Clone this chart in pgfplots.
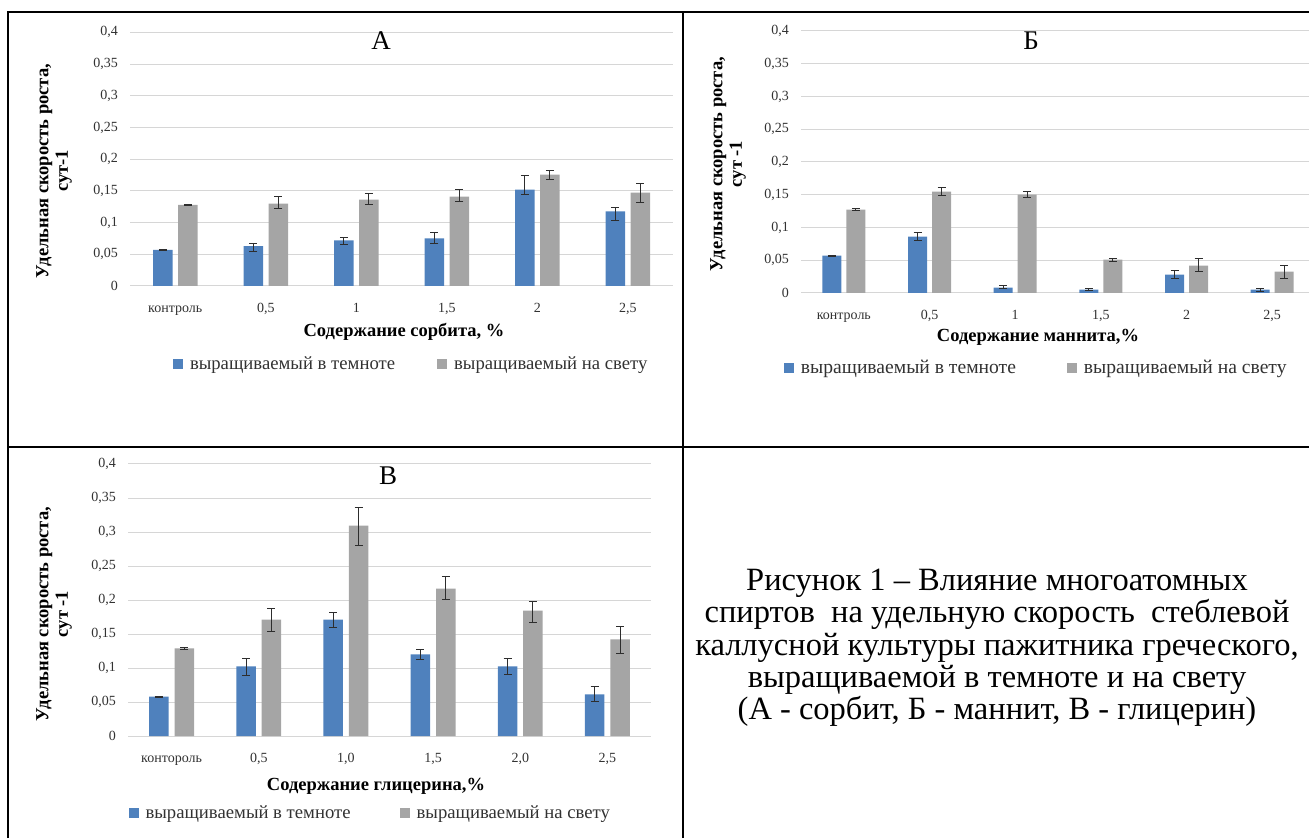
\documentclass[border=0pt]{standalone}
\usepackage{pgfplots}
\pgfplotsset{compat=1.18}
\usepackage{pgfplotstable}
\usepackage{fontspec}
\setmainfont{Liberation Serif}
\definecolor{bluebar}{RGB}{79,129,189}
\definecolor{graybar}{RGB}{165,165,165}
\definecolor{gridc}{RGB}{214,214,214}
\definecolor{errc}{RGB}{45,45,45}
\definecolor{txt}{RGB}{50,50,50}

\pgfplotstableread{
x y1 p1 m1 y2 p2 m2
0 0.057 0.001 0.001 0.128 0.001 0.001
1 0.063 0.004 0.008 0.130 0.0115 0.0083
2 0.072 0.0042 0.0062 0.1363 0.0089 0.0078
3 0.0752 0.0089 0.0084 0.141 0.0115 0.0084
4 0.152 0.023 0.0074 0.1755 0.0068 0.0074
5 0.1175 0.0057 0.0146 0.1473 0.0146 0.0152
}\dataA

\pgfplotstableread{
x y1 p1 m1 y2 p2 m2
0 0.057 0.001 0.001 0.1272 0.0015 0.0015
1 0.086 0.0061 0.0051 0.1547 0.0066 0.0056
2 0.0081 0.0026 0.002 0.150 0.0052 0.004
3 0.0051 0.001 0.001 0.0509 0.0025 0.0025
4 0.028 0.0071 0.0056 0.0417 0.0117 0.0086
5 0.0051 0.002 0.0026 0.0326 0.0096 0.0102
}\dataB

\pgfplotstableread{
x y1 p1 m1 y2 p2 m2
0 0.0578 0.001 0.001 0.1287 0.001 0.001
1 0.1023 0.0122 0.0137 0.1713 0.0157 0.0176
2 0.1713 0.0108 0.0122 0.3094 0.0269 0.0289
3 0.1199 0.0069 0.0078 0.2169 0.0171 0.0162
4 0.1023 0.0122 0.0122 0.1845 0.0133 0.0171
5 0.0612 0.0117 0.0108 0.142 0.0195 0.0206
}\dataC

\pgfplotsset{
  panel/.style={
    ybar,
    scale only axis,
    anchor=south west,
    ymin=0, ymax=0.4,
    xmin=-0.5, xmax=5.5,
    ytick={0,0.05,0.1,0.15,0.2,0.25,0.3,0.35,0.4},
    yticklabels={0,{0,05},{0,1},{0,15},{0,2},{0,25},{0,3},{0,35},{0,4}},
    xtick={0,1,2,3,4,5},
    ymajorgrids,
    grid style={draw=gridc, line width=1pt},
    axis line style={draw=none},
    major tick length=0pt,
    tick label style={font=\fontsize{14}{16}\selectfont, text=txt},
    yticklabel style={anchor=east, inner sep=0pt, xshift=-12pt},
    xticklabel style={anchor=base, inner sep=0pt, yshift=-26.5pt},
    legend columns=2,
    legend style={draw=none, fill=none, inner sep=0pt, outer sep=0pt, anchor=west,
       font=\fontsize{18.7}{20}\selectfont, text=txt,
       nodes={inner sep=0pt},
       /tikz/every odd column/.append style={column sep=7pt}},
    legend image code/.code={\fill[##1] (0pt,-5pt) rectangle (10pt,5pt);},
    error bars/y dir=both, error bars/y explicit,
    error bars/error bar style={draw=errc, line width=1pt},
    error bars/error mark options={rotate=90, mark size=4pt, line width=1pt, draw=errc},
    clip=false,
  },
}

\begin{document}
\begin{tikzpicture}
\useasboundingbox (0pt,0pt) rectangle (1309pt,838pt);

% ---------------- A ----------------
\begin{axis}[panel, at={(130pt,552pt)}, width=543pt, height=253.7pt, bar width=19.5pt,
  xticklabels={контроль,{0,5},1,{1,5},2,{2,5}},
  legend style={at={(0.0792,-0.3074)}, /tikz/every even column/.append style={column sep=42pt}}]
\addplot[fill=bluebar, draw=none, bar shift=-12.5pt] table[x=x, y=y1, y error plus=p1, y error minus=m1] {\dataA};
\addplot[fill=graybar, draw=none, bar shift=12.5pt] table[x=x, y=y2, y error plus=p2, y error minus=m2] {\dataA};
\legend{выращиваемый в темноте, выращиваемый на свету}
\end{axis}

% ---------------- Б ----------------
\begin{axis}[panel, at={(801pt,545pt)}, width=508pt, height=262pt, xmax=5.43, bar width=19pt,
  xticklabels={контроль,{0,5},1,{1,5},2,{2,5}},
  legend style={at={(-0.0335,-0.286)}, font=\fontsize{19.6}{21}\selectfont,
    /tikz/every even column/.append style={column sep=51pt}}]
\addplot[fill=bluebar, draw=none, bar shift=-12pt] table[x=x, y=y1, y error plus=p1, y error minus=m1] {\dataB};
\addplot[fill=graybar, draw=none, bar shift=12pt] table[x=x, y=y2, y error plus=p2, y error minus=m2] {\dataB};
\legend{выращиваемый в темноте, выращиваемый на свету}
\end{axis}

% ---------------- В ----------------
\begin{axis}[panel, at={(128pt,102pt)}, width=523pt, height=272pt, bar width=19.5pt,
  xticklabels={контороль,{0,5},{1,0},{1,5},{2,0},{2,5}},
  legend style={at={(0.001,-0.283)}, /tikz/every even column/.append style={column sep=49pt}}]
\addplot[fill=bluebar, draw=none, bar shift=-12.7pt] table[x=x, y=y1, y error plus=p1, y error minus=m1] {\dataC};
\addplot[fill=graybar, draw=none, bar shift=12.7pt] table[x=x, y=y2, y error plus=p2, y error minus=m2] {\dataC};
\legend{выращиваемый в темноте, выращиваемый на свету}
\end{axis}

% frame
\draw[line width=2.5pt] (8pt,0pt) -- (8pt,826pt) -- (1309pt,826pt);
\draw[line width=2.5pt] (683pt,0pt) -- (683pt,826pt);
\draw[line width=2.5pt] (8pt,391pt) -- (1309pt,391pt);

% titles
\node[font=\fontsize{27}{30}\selectfont] at (381pt,797pt) {А};
\node[font=\fontsize{27}{30}\selectfont] at (1031pt,797pt) {Б};
\node[font=\fontsize{27}{30}\selectfont] at (388pt,362.5pt) {В};

% x labels
\node[font=\fontsize{18.5}{20}\selectfont\bfseries] at (404pt,506pt) {Содержание сорбита, \%};
\node[font=\fontsize{18.5}{20}\selectfont\bfseries] at (1038pt,501pt) {Содержание маннита,\%};
\node[font=\fontsize{18.5}{20}\selectfont\bfseries] at (376pt,52pt) {Содержание глицерина,\%};

% y labels
\node[rotate=90, align=center, inner sep=0pt, font=\fontsize{18.5}{19.5}\selectfont\bfseries] at (54pt,667pt) {Удельная скорость роста,\\ сут-1};
\node[rotate=90, align=center, inner sep=0pt, font=\fontsize{18.5}{19.5}\selectfont\bfseries] at (728pt,674pt) {Удельная скорость роста,\\ сут -1};
\node[rotate=90, align=center, inner sep=0pt, font=\fontsize{18.5}{19.5}\selectfont\bfseries] at (54pt,224pt) {Удельная скорость роста,\\ сут -1};

% caption
\node[align=center, inner sep=0pt, font=\fontsize{32.5}{32.3}\selectfont] at (997pt,190pt) {%
Рисунок 1 – Влияние многоатомных\\
спиртов\ \ на удельную скорость\ \ стеблевой\\
каллусной культуры пажитника греческого,\\
выращиваемой в темноте и на свету\\
(А - сорбит, Б - маннит, В - глицерин)};
\end{tikzpicture}
\end{document}
